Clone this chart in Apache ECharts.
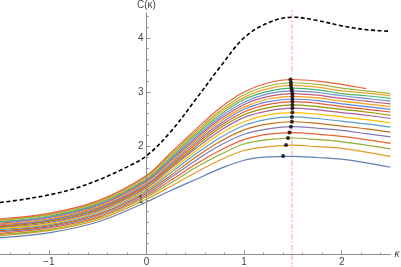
<!DOCTYPE html>
<html><head><meta charset="utf-8">
<script src="https://cdn.jsdelivr.net/npm/echarts@6/dist/echarts.min.js"></script>
<style>html,body{margin:0;padding:0;background:#fff}#c{width:401px;height:267px}</style>
</head><body><div id="c"></div>
<script>
// x positions shared by the coloured curves
const cx = [-1.5,-1,-0.5,0,0.25,0.5,0.75,1,1.25,1.5,1.75,2,2.25,2.5];
const c1  = [.31,.40,.60,.97,1.18,1.38,1.58,1.74,1.80,1.81,1.79,1.76,1.69,1.61];
const c2  = [.35,.44,.64,1.02,1.26,1.51,1.74,1.92,1.99,2.02,1.99,1.96,1.89,1.81];
const c3  = [.37,.46,.67,1.06,1.32,1.60,1.84,2.04,2.12,2.15,2.12,2.08,2.02,1.95];
const c4  = [.39,.49,.69,1.09,1.37,1.66,1.92,2.12,2.22,2.25,2.22,2.18,2.12,2.05];
const c5  = [.42,.51,.72,1.12,1.42,1.73,2.01,2.22,2.32,2.36,2.33,2.29,2.23,2.17];
const c6  = [.44,.53,.74,1.15,1.46,1.79,2.08,2.30,2.41,2.45,2.42,2.37,2.32,2.26];
const c7  = [.46,.55,.77,1.18,1.51,1.85,2.15,2.38,2.50,2.54,2.51,2.46,2.41,2.35];
const c8  = [.48,.57,.79,1.20,1.55,1.90,2.22,2.45,2.58,2.62,2.59,2.54,2.49,2.43];
const c9  = [.50,.59,.81,1.23,1.59,1.95,2.28,2.53,2.65,2.70,2.67,2.62,2.57,2.51];
const c10 = [.51,.61,.83,1.26,1.62,1.99,2.33,2.58,2.71,2.76,2.73,2.68,2.63,2.57];
const c11 = [.53,.63,.85,1.28,1.65,2.03,2.37,2.63,2.77,2.82,2.79,2.73,2.68,2.63];
const c12 = [.55,.64,.86,1.30,1.68,2.07,2.41,2.68,2.82,2.87,2.84,2.78,2.73,2.68];
const c13 = [.56,.66,.88,1.33,1.71,2.10,2.45,2.72,2.87,2.92,2.89,2.83,2.78,2.73];
const c14 = [.58,.68,.90,1.35,1.74,2.13,2.49,2.77,2.92,2.97,2.94,2.88,2.83,2.78];
const c15 = [.60,.69,.92,1.37,1.76,2.16,2.53,2.81,2.97,3.02,2.99,2.93,2.88,2.83];
const c16 = [.61,.71,.94,1.39,1.79,2.20,2.57,2.86,3.01,3.07,3.04,2.97,2.93,2.88];
const c17 = [.63,.73,.95,1.41,1.82,2.23,2.61,2.90,3.06,3.12,3.09,3.02,2.98,2.93];
const c18 = [.64,.74,.97,1.44,1.85,2.26,2.65,2.95,3.11,3.17,3.14,3.07,3.02,2.97];
const c19 = [.66,.76,.99,1.46,1.88,2.30,2.70,3.00,3.17,3.23,3.20,3.14,3.06,null];
const curves = [c1,c2,c3,c4,c5,c6,c7,c8,c9,c10,c11,c12,c13,c14,c15,c16,c17,c18,c19];
const colors = ['#5E81B5','#E19C24','#8FB032','#EB6235','#8778B3','#C56E1A','#5D9EC7','#FFBF00',
  '#A5609D','#929600','#E95536','#6685D9','#F89F13','#BC5B80','#6F8FD0','#47B66D','#E8A530','#A3B23A','#E8603A'];

// dashed limit curve
const dashX = [-1.5,-1.25,-1,-0.75,-0.5,-0.25,0,0.25,0.5,0.75,1,1.25,1.5,1.75,2,2.25,2.5];
const dashY = [0.96,1.02,1.10,1.21,1.37,1.57,1.82,2.27,2.85,3.45,4.0,4.28,4.38,4.32,4.22,4.15,4.12];

// maxima of the coloured curves
const peakX = [1.40,1.43,1.45,1.465,1.48,1.49,1.49,1.495,1.495,1.495,1.495,1.495,1.495,1.495,1.49,1.485,1.48,1.48,1.475];
const peakY = [1.82,2.02,2.15,2.25,2.36,2.45,2.54,2.62,2.70,2.76,2.82,2.87,2.92,2.97,3.02,3.07,3.12,3.17,3.23];

// vertical reference line
const vlineX = 1.49;
const vlineY = [-0.3, 4.55];

// axis ranges and ticks
const xRange = [-1.5, 2.5];
const yRange = [0, 4.46];
const xMajor = [-1,0,1,2];
const xMinor = [-1.4,-1.2,-0.8,-0.6,-0.4,-0.2,0.2,0.4,0.6,0.8,1.2,1.4,1.6,1.8,2.2,2.4];
const yMajor = [1,2,3,4];
const yMinor = [0.2,0.4,0.6,0.8,1.2,1.4,1.6,1.8,2.2,2.4,2.6,2.8,3.2,3.4,3.6,3.8,4.2,4.4];

const axisColor = '#8c8c8c';
const labelColor = '#444';
const font = 'Liberation Sans';
const G = {left: 0, right: 10.5, top: 12.85, bottom: 12.5};

const chart = echarts.init(document.getElementById('c'), null, {renderer:'canvas'});
const series = curves.map((ys, i) => ({
  type: 'line', xAxisIndex: 0, yAxisIndex: 0,
  data: cx.map((x, j) => [x, ys[j]]).filter(p => p[1] !== null),
  smooth: 0.35, symbol: 'none', silent: true,
  lineStyle: {width: 1.2, color: colors[i]}
}));
series.push({
  type: 'line', xAxisIndex: 0, yAxisIndex: 0,
  data: dashX.map((x, j) => [x, dashY[j]]), smooth: 0.35, symbol: 'none', silent: true,
  lineStyle: {width: 1.6, color: '#000', type: [4, 2.5]}
});
series.push({
  type: 'line', xAxisIndex: 0, yAxisIndex: 0,
  data: vlineY.map(y => [vlineX, y]), clip: false, symbol: 'none', silent: true,
  lineStyle: {width: 1.2, color: 'rgba(240,110,110,0.55)', type: [5, 2, 1.5, 2]}
});
series.push({
  type: 'scatter', xAxisIndex: 0, yAxisIndex: 0,
  data: peakX.map((x, j) => [x, peakY[j]]), symbolSize: 4, silent: true,
  itemStyle: {color: '#000'}, z: 5
});

function buildOption(zeroLeft) {
  return {
    animation: false,
    grid: [
      Object.assign({outerBoundsMode: 'none', containLabel: false}, G),
      {outerBoundsMode: 'none', containLabel: false, left: zeroLeft, right: G.right, top: G.top, bottom: G.bottom}
    ],
    xAxis: [{
      gridIndex: 0, type: 'value', min: xRange[0], max: xRange[1], position: 'bottom', z: 10,
      axisLine: {onZero: false, lineStyle: {color: axisColor, width: 1}},
      axisTick: {inside: true, length: 4, customValues: xMajor, lineStyle: {color: axisColor}},
      axisLabel: {customValues: xMajor, margin: 3, fontSize: 10, color: labelColor, fontFamily: font,
        formatter: v => v < 0 ? '\u2212' + Math.abs(v) : String(v)},
      splitLine: {show: false},
      name: 'κ', nameLocation: 'end', nameGap: 4,
      nameTextStyle: {color: labelColor, fontSize: 10, fontFamily: font, fontStyle: 'italic'}
    }, {
      gridIndex: 0, type: 'value', min: xRange[0], max: xRange[1], position: 'bottom', z: 10,
      axisLine: {show: false, onZero: false},
      axisTick: {inside: true, length: 2, customValues: xMinor, lineStyle: {color: axisColor}},
      axisLabel: {show: false}, splitLine: {show: false}
    }, {
      gridIndex: 1, type: 'value', min: 0, max: xRange[1], show: false
    }],
    yAxis: [{
      gridIndex: 0, type: 'value', min: yRange[0], max: yRange[1], show: false
    }, {
      gridIndex: 1, type: 'value', min: yRange[0], max: yRange[1], position: 'left', z: 10,
      axisLine: {show: true, onZero: false, lineStyle: {color: axisColor, width: 1}},
      axisTick: {inside: true, length: 4, customValues: yMajor, lineStyle: {color: axisColor}},
      axisLabel: {customValues: yMajor, margin: 3, fontSize: 10, color: labelColor, fontFamily: font},
      splitLine: {show: false},
      name: 'C(κ)', nameLocation: 'end', nameGap: 3,
      nameTextStyle: {color: labelColor, fontSize: 10, fontFamily: font}
    }, {
      gridIndex: 1, type: 'value', min: yRange[0], max: yRange[1], position: 'left', z: 10,
      axisLine: {show: false, onZero: false},
      axisTick: {inside: true, length: 2, customValues: yMinor, lineStyle: {color: axisColor}},
      axisLabel: {show: false}, splitLine: {show: false}
    }],
    series: series
  };
}
// first pass: find where x = 0 falls, then pin the y-axis grid there
chart.setOption(buildOption(G.left + 100));
const zeroPx = chart.convertToPixel({xAxisIndex: 0}, 0);
chart.setOption(buildOption(zeroPx), true);
</script></body></html>
